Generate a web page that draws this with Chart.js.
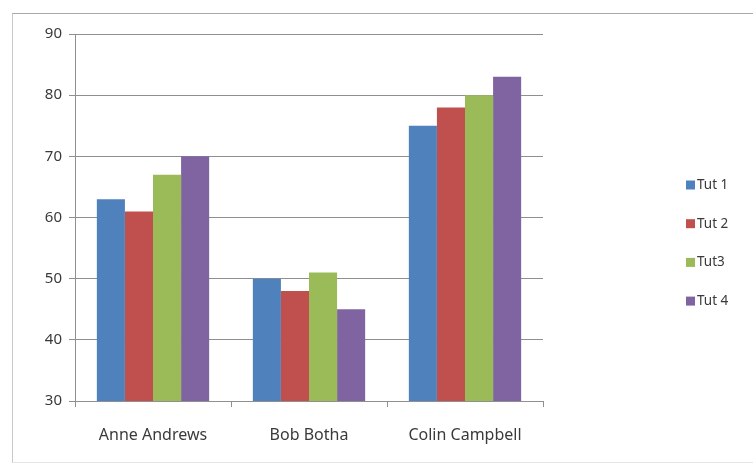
<!DOCTYPE html>
<html>
<head>
<meta charset="utf-8">
<script src="https://cdn.jsdelivr.net/npm/chart.js@4.4.1/dist/chart.umd.min.js"></script>
<style>
  html, body { margin: 0; padding: 0; background: #ffffff; }
  body { width: 753px; height: 464px; position: relative; overflow: hidden; }
  #frame { position: absolute; left: 12px; top: 13px; width: 760px; height: 448px;
           border-top: 1px solid #a9a9a9; border-left: 1px solid #c8c8c8; border-bottom: 1px solid #e6e6e6; }
  #wrap { position: absolute; left: 0; top: 0; width: 753px; height: 464px; }
</style>
</head>
<body>
<div id="frame"></div>
<div id="wrap"><canvas id="c" width="753" height="464"></canvas></div>
<script>
const categories = ["Anne Andrews", "Bob Botha", "Colin Campbell"];
const seriesNames = ["Tut 1", "Tut 2", "Tut3", "Tut 4"];
const tut1 = [63, 50, 75];
const tut2 = [61, 48, 78];
const tut3 = [67, 51, 80];
const tut4 = [70, 45, 83];
const yTicks = [30, 40, 50, 60, 70, 80, 90];

const colors = ["#4F81BD", "#C0504D", "#9BBB59", "#8064A2"];
const seriesValues = [tut1, tut2, tut3, tut4];
const textColor = "#3a3a3a";
const gridColor = "#8f8f8f";

const sideLegend = {
  id: "sideLegend",
  afterDraw(chart) {
    const ctx = chart.ctx;
    ctx.save();
    ctx.font = "13.5px 'Noto Sans'";
    ctx.textBaseline = "middle";
    ctx.textAlign = "left";
    chart.data.datasets.forEach((ds, i) => {
      const y = 185 + i * 38.7;
      ctx.fillStyle = ds.backgroundColor;
      ctx.fillRect(686, y - 4.5, 9, 9);
      ctx.fillStyle = textColor;
      ctx.fillText(ds.label, 697, y);
    });
    ctx.restore();
  }
};

new Chart(document.getElementById("c"), {
  type: "bar",
  data: {
    labels: categories,
    datasets: seriesNames.map((name, i) => ({
      label: name,
      data: seriesValues[i],
      backgroundColor: colors[i],
      borderWidth: 0,
      categoryPercentage: 0.72,
      barPercentage: 1.0
    }))
  },
  options: {
    responsive: false,
    animation: false,
    devicePixelRatio: 1,
    layout: { padding: { left: 0, top: 34, right: 210, bottom: 0 } },
    plugins: {
      legend: { display: false },
      tooltip: { enabled: false }
    },
    scales: {
      x: {
        afterFit(scale) { scale.height = 63; },
        grid: { display: true, drawOnChartArea: false, drawTicks: true, tickLength: 6, color: gridColor, offset: true },
        border: { display: true, color: gridColor, width: 1 },
        ticks: { color: textColor, font: { family: "'Noto Sans'", size: 16 }, padding: 19, maxRotation: 0 }
      },
      y: {
        min: 30, max: 90,
        afterFit(scale) { scale.width = 75; },
        afterBuildTicks(scale) { scale.ticks = yTicks.map(v => ({ value: v })); },
        grid: { color: gridColor, drawTicks: true, tickLength: 6 },
        border: { display: true, color: gridColor, width: 1 },
        ticks: { color: textColor, font: { family: "'Noto Sans'", size: 15 }, padding: 7 }
      }
    }
  },
  plugins: [sideLegend]
});
</script>
</body>
</html>
